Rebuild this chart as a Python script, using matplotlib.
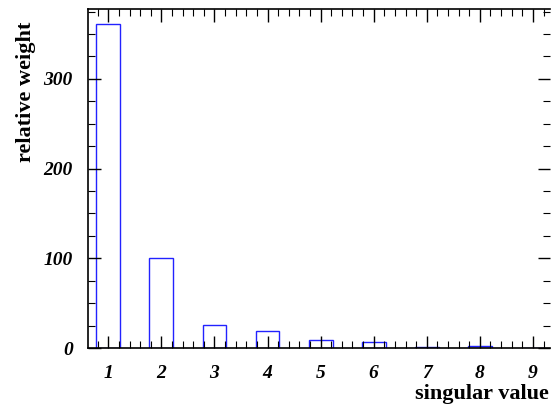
import numpy as np
import matplotlib.pyplot as plt
from matplotlib.ticker import MultipleLocator

# singular values and their relative weights
sv_index = [1, 2, 3, 4, 5, 6, 7, 8, 9]
weights = [361, 100, 26, 19, 9, 7, 1, 2, 0.5]
xtick_labels = ['1', '2', '3', '4', '5', '6', '7', '8', '9']

plt.rcParams['font.family'] = ['Liberation Serif', 'DejaVu Serif']

fig = plt.figure(figsize=(5.51, 4.04), dpi=100)
ax = fig.add_axes([0.16, 0.1386, 0.838, 0.8394])

ax.bar(sv_index, weights, width=0.45, facecolor='none', edgecolor='#2222ff', linewidth=1.0)

ax.set_xlim(0.62, 9.32)
ax.set_ylim(0, 378)

ax.xaxis.set_minor_locator(MultipleLocator(0.2))
ax.yaxis.set_major_locator(MultipleLocator(100))
ax.yaxis.set_minor_locator(MultipleLocator(25))
ax.set_xticks(sv_index)
ax.set_xticklabels(xtick_labels)

ax.tick_params(which='both', direction='in', top=True, right=True, colors='black')
ax.tick_params(which='major', length=9, width=1.0)
ax.tick_params(which='minor', length=5, width=0.8)
ax.tick_params(axis='x', which='major', pad=12)
ax.tick_params(axis='y', which='major', pad=11)
for lab in ax.get_xticklabels() + ax.get_yticklabels():
    lab.set_fontsize(14)
    lab.set_fontweight('bold')
    lab.set_fontstyle('italic')

ax.spines['right'].set_visible(False)
for s in ['left', 'top', 'bottom']:
    ax.spines[s].set_linewidth(1.2)

fig.text(0.047, 0.772, 'relative weight', rotation=90, ha='center', va='center',
         fontsize=16, fontweight='bold')
fig.text(0.753, 0.025, 'singular value', ha='left', va='center',
         fontsize=16, fontweight='bold')

fig.savefig('out.png', dpi=100)
